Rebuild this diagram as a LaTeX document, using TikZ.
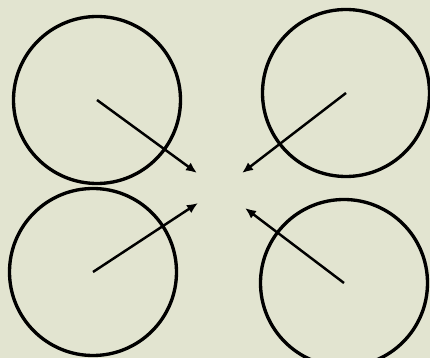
\documentclass[tikz,border=0pt]{standalone}
\usepackage{xcolor}
\usetikzlibrary{arrows.meta}
\usetikzlibrary{math}

\definecolor{paper}{RGB}{226,228,208}

\begin{document}
\begin{tikzpicture}[ring/.style={draw, circle, line width=1.9pt, minimum size=3.34cm, inner sep=0pt},
    spoke/.style={-{Latex[length=2.2mm, width=1.9mm]}, line width=1.4pt}]
\tikzmath{
\W=8.6;
\H=7.16;
}

\fill[color=paper] (0,0) rectangle (\W,\H);
\useasboundingbox (0,0) rectangle (\W,\H);

\node[ring] (ul) at (1.94,5.16) {};
\node[ring] (ur) at (6.92,5.30) {};
\node[ring] (ll) at (1.86,1.72) {};
\node[ring] (lr) at (6.88,1.50) {};

\coordinate (ulend) at (3.94,3.70);
\coordinate (urend) at (4.84,3.70);
\coordinate (llend) at (3.96,3.10);
\coordinate (lrend) at (4.90,3.00);

\draw[spoke] (ul.center) -- (ulend);
\draw[spoke] (ur.center) -- (urend);
\draw[spoke] (ll.center) -- (llend);
\draw[spoke] (lr.center) -- (lrend);

\end{tikzpicture}
\end{document}
